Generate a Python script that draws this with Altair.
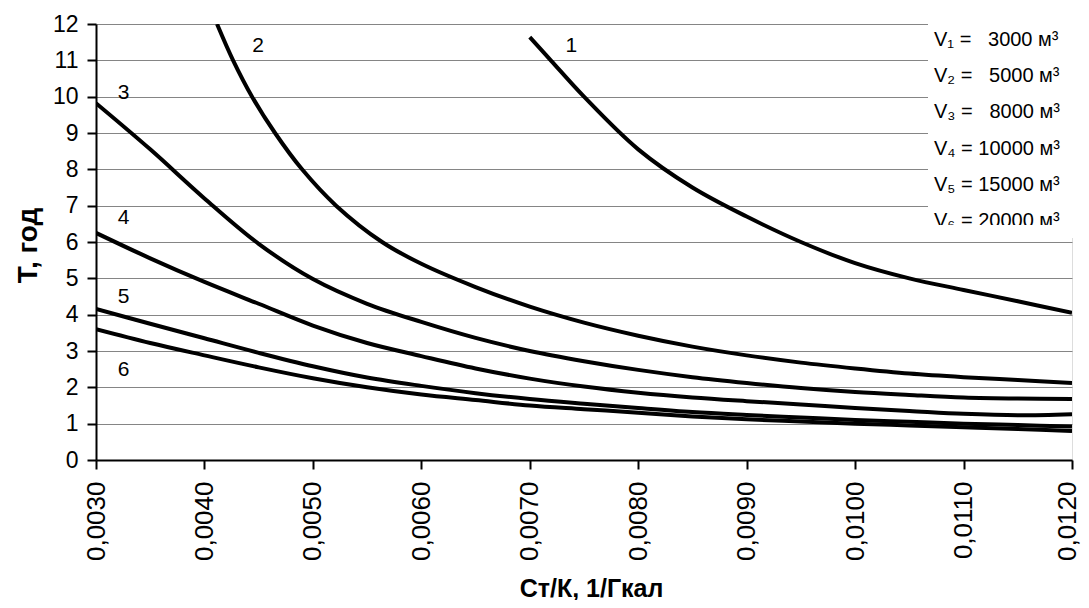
import altair as alt
import pandas as pd

# ---- data ----
x_grid = [0.0030, 0.0035, 0.0040, 0.0045, 0.0050, 0.0055, 0.0060, 0.0065, 0.0070,
          0.0075, 0.0080, 0.0085, 0.0090, 0.0095, 0.0100, 0.0105, 0.0110, 0.0115, 0.0120]

c1_x = [0.0070, 0.0072, 0.0075, 0.0080, 0.0085, 0.0090, 0.0095, 0.0100, 0.0105, 0.0110, 0.0115, 0.0120]
c1_y = [11.64, 10.98, 10.0, 8.55, 7.5, 6.7, 6.0, 5.42, 5.0, 4.68, 4.37, 4.05]

c2_x = [0.004116, 0.004264, 0.004439, 0.004651, 0.0049, 0.005214, 0.005638, 0.0060, 0.0065,
        0.0070, 0.0075, 0.0080, 0.0085, 0.0090, 0.0095, 0.0100, 0.0105, 0.0110, 0.0115, 0.0120]
c2_y = [12.0, 11.0, 10.0, 9.0, 8.0, 7.0, 6.0, 5.4, 4.76, 4.22, 3.78, 3.42, 3.12, 2.88, 2.68,
        2.52, 2.38, 2.28, 2.2, 2.12]

c3_y = [9.82, 8.55, 7.2, 5.95, 4.98, 4.3, 3.8, 3.36, 3.0, 2.72, 2.48, 2.28, 2.12, 1.98, 1.87,
        1.79, 1.72, 1.69, 1.68]
c4_y = [6.25, 5.55, 4.9, 4.3, 3.7, 3.22, 2.86, 2.52, 2.24, 2.02, 1.85, 1.72, 1.62, 1.53, 1.43,
        1.35, 1.27, 1.23, 1.26]
c5_y = [4.16, 3.75, 3.35, 2.95, 2.58, 2.27, 2.04, 1.84, 1.68, 1.55, 1.43, 1.32, 1.24, 1.17,
        1.1, 1.05, 1.0, 0.96, 0.92]
c6_y = [3.6, 3.22, 2.88, 2.55, 2.25, 2.0, 1.8, 1.65, 1.5, 1.4, 1.3, 1.2, 1.12, 1.06, 1.0,
        0.95, 0.9, 0.85, 0.8]

curve_names = ["1", "2", "3", "4", "5", "6"]
label_x = [0.00733, 0.00444, 0.0032, 0.0032, 0.0032, 0.0032]
label_y = [11.4, 11.4, 10.1, 6.66, 4.5, 2.48]

legend_lines = ["V\u2081 = \u20073000 м\u00b3", "V\u2082 = \u20075000 м\u00b3",
                "V\u2083 = \u20078000 м\u00b3", "V\u2084 = 10000 м\u00b3",
                "V\u2085 = 15000 м\u00b3", "V\u2086 = 20000 м\u00b3"]

x_ticks = [0.003, 0.004, 0.005, 0.006, 0.007, 0.008, 0.009, 0.010, 0.011, 0.012]
y_ticks = list(range(0, 13))

FONT = "Liberation Sans"

rows = []
for xs, ys, name in [(c1_x, c1_y, "1"), (c2_x, c2_y, "2"), (x_grid, c3_y, "3"),
                     (x_grid, c4_y, "4"), (x_grid, c5_y, "5"), (x_grid, c6_y, "6")]:
    for xv, yv in zip(xs, ys):
        rows.append({"x": xv, "y": yv, "curve": name})
df = pd.DataFrame(rows)
lab_df = pd.DataFrame({"x": label_x, "y": label_y, "t": curve_names})

xscale = alt.Scale(domain=[0.003, 0.012], nice=False, zero=False)
yscale = alt.Scale(domain=[0, 12], nice=False)

x_axis = alt.Axis(values=x_ticks, labelExpr="replace(format(datum.value, '.4f'), '.', ',')",
                  labelAngle=-90, labelAlign="right", labelBaseline="middle",
                  labelFontSize=26, labelFont=FONT, labelColor="black", labelPadding=12,
                  labelOverlap=False, labelFlush=False,
                  labelOffset={"condition": {"test": "datum.value >= 0.0119", "value": -5}, "value": 0},
                  tickSize=9, tickColor="black", tickWidth=2, domainColor="black",
                  domainWidth=2, grid=False, title="Ст/К, 1/Гкал", titleFont=FONT,
                  titleFontSize=25, titleFontWeight="bold", titleColor="black",
                  titleX=495, titleY=128, titleAlign="center", titleBaseline="middle")
y_axis = alt.Axis(values=y_ticks, labelFontSize=23, labelFont=FONT, labelColor="black",
                  labelPadding=9, labelOverlap=False, labelFlush=False,
                  tickSize=9, tickColor="black", tickWidth=2,
                  domainColor="black", domainWidth=2, grid=True, gridColor="#858585",
                  gridWidth=1, title="Т, год", titleFont=FONT, titleFontSize=28,
                  titleFontWeight="bold", titleColor="black", titleX=-68, titleY=221,
                  titleAlign="center", titleBaseline="middle", titleAngle=270)

base = alt.Chart(df)
lines = base.mark_line(color="black", strokeWidth=4, interpolate="catmull-rom", clip=True).encode(
    x=alt.X("x:Q", scale=xscale, axis=x_axis),
    y=alt.Y("y:Q", scale=yscale, axis=y_axis),
    detail="curve:N",
)

legend_box = alt.Chart(pd.DataFrame({"a": [0]})).mark_rect(color="white").encode(
    x=alt.value(832), x2=alt.value(990), y=alt.value(-4), y2=alt.value(214))

labels = alt.Chart(lab_df).mark_text(font=FONT, fontSize=21, color="black",
                                     align="left", baseline="middle").encode(
    x=alt.X("x:Q", scale=xscale, axis=x_axis), y=alt.Y("y:Q", scale=yscale, axis=y_axis),
    text="t:N")

legend_layers = []
for i, txt in enumerate(legend_lines):
    legend_layers.append(
        alt.Chart(pd.DataFrame({"t": [txt]})).mark_text(
            font=FONT, fontSize=20, color="black", align="left", baseline="alphabetic"
        ).encode(x=alt.value(838), y=alt.value(22 + 36.2 * i), text="t:N")
    )

clip_box = alt.Chart(pd.DataFrame({"a": [0]})).mark_rect(color="white").encode(
    x=alt.value(832), x2=alt.value(990), y=alt.value(201), y2=alt.value(213))

chart = alt.layer(lines, legend_box, labels, *legend_layers, clip_box).properties(
    width=976, height=436,
    autosize=alt.AutoSizeParams(type="none"),
    padding={"left": 88, "top": 16, "right": 9, "bottom": 140},
).configure_view(stroke=None).configure(background="white")

chart.save("out.html", embed_options={"renderer": "svg", "actions": False})
